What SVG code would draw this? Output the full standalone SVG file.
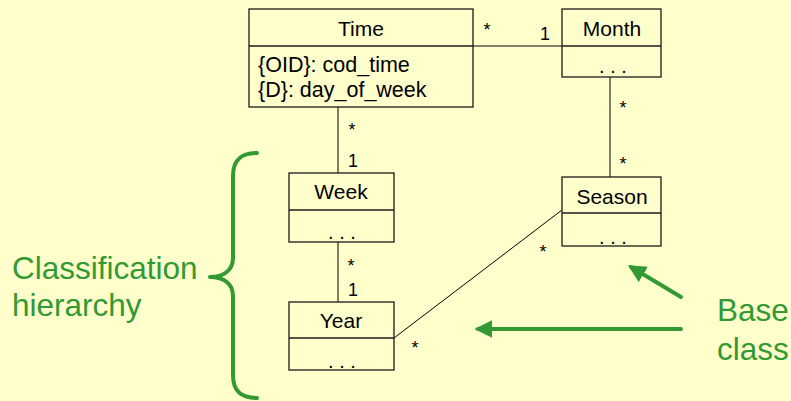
<svg xmlns="http://www.w3.org/2000/svg" width="791" height="401" viewBox="0 0 791 401">
  <defs>
    <style>
      .box { fill: #FFFFCC; stroke: #1a1a1a; stroke-width: 1.3; }
      .sep { stroke: #1a1a1a; stroke-width: 1.3; }
      .name { font-family: "Liberation Sans", Arial, sans-serif; font-size: 21px; fill: #000; text-anchor: middle; }
      .attr { font-family: "Liberation Sans", Arial, sans-serif; font-size: 21.5px; fill: #000; }
      .dots { font-family: "Liberation Sans", Arial, sans-serif; font-size: 20px; fill: #000; text-anchor: middle; }
      .mult { font-family: "Liberation Sans", Arial, sans-serif; font-size: 18px; fill: #000; text-anchor: middle; }
      .conn { stroke: #000; stroke-width: 1; fill: none; }
      .note { font-family: "Liberation Sans", Arial, sans-serif; font-size: 31.5px; fill: #339933; }
      .green { stroke: #339933; stroke-width: 4; fill: none; stroke-linecap: round; stroke-linejoin: round; }
    </style>
    <marker id="head" viewBox="0 0 10 10" refX="8" refY="5" markerWidth="4.5" markerHeight="4.5" orient="auto" markerUnits="strokeWidth">
      <path d="M0,0 L10,5 L0,10 z" fill="#339933"/>
    </marker>
  </defs>

  <rect width="791" height="401" fill="#FFFFCC"/>

  <!-- associations -->
  <g id="connectors">
    <line class="conn" x1="473" y1="46" x2="562" y2="46"/>
    <line class="conn" x1="610" y1="77" x2="610" y2="177"/>
    <line class="conn" x1="338" y1="107" x2="338" y2="173"/>
    <line class="conn" x1="338" y1="242" x2="338" y2="302"/>
    <line class="conn" x1="394" y1="338" x2="562" y2="210"/>
    <text class="mult" x="487" y="36">*</text>
    <text class="mult" x="545" y="40">1</text>
    <text class="mult" x="623" y="114">*</text>
    <text class="mult" x="623" y="170">*</text>
    <text class="mult" x="352" y="136">*</text>
    <text class="mult" x="353" y="167">1</text>
    <text class="mult" x="351" y="272">*</text>
    <text class="mult" x="353" y="296">1</text>
    <text class="mult" x="543" y="258">*</text>
    <text class="mult" x="415" y="354">*</text>
  </g>

  <g id="time">
    <rect class="box" x="249" y="9" width="224" height="98"/>
    <line class="sep" x1="249" y1="46" x2="473" y2="46"/>
    <text class="name" x="361" y="36">Time</text>
    <text class="attr" x="258" y="72">{OID}: cod_time</text>
    <text class="attr" x="258" y="97">{D}: day_of_week</text>
  </g>

  <g id="month">
    <rect class="box" x="562" y="9" width="99" height="68"/>
    <line class="sep" x1="562" y1="46" x2="661" y2="46"/>
    <text class="name" x="612" y="36">Month</text>
    <text class="dots" x="613" y="73">. . .</text>
  </g>

  <g id="week">
    <rect class="box" x="289" y="173" width="105" height="69"/>
    <line class="sep" x1="289" y1="210" x2="394" y2="210"/>
    <text class="name" x="341" y="199">Week</text>
    <text class="dots" x="342" y="239">. . .</text>
  </g>

  <g id="year">
    <rect class="box" x="289" y="302" width="105" height="68"/>
    <line class="sep" x1="289" y1="338" x2="394" y2="338"/>
    <text class="name" x="341" y="328">Year</text>
    <text class="dots" x="342" y="368">. . .</text>
  </g>

  <g id="season">
    <rect class="box" x="562" y="177" width="99" height="69"/>
    <line class="sep" x1="562" y1="213" x2="661" y2="213"/>
    <text class="name" x="612" y="204">Season</text>
    <text class="dots" x="613" y="244">. . .</text>
  </g>

  <!-- annotations -->
  <g id="classification-hierarchy">
    <path class="green" d="M257,153 C241,153 233,160 233,176 L233,258 C233,270 224,277 210,277 C224,277 233,284 233,296 L233,375 C233,391 241,398 257,398"/>
    <text class="note" x="12" y="279">Classification</text>
    <text class="note" x="12" y="316">hierarchy</text>
  </g>

  <g id="base-class">
    <line class="green" x1="681" y1="297" x2="631" y2="267" marker-end="url(#head)"/>
    <line class="green" x1="681" y1="329" x2="478" y2="329" marker-end="url(#head)"/>
    <text class="note" x="717" y="321">Base</text>
    <text class="note" x="717" y="360">class</text>
  </g>
</svg>
